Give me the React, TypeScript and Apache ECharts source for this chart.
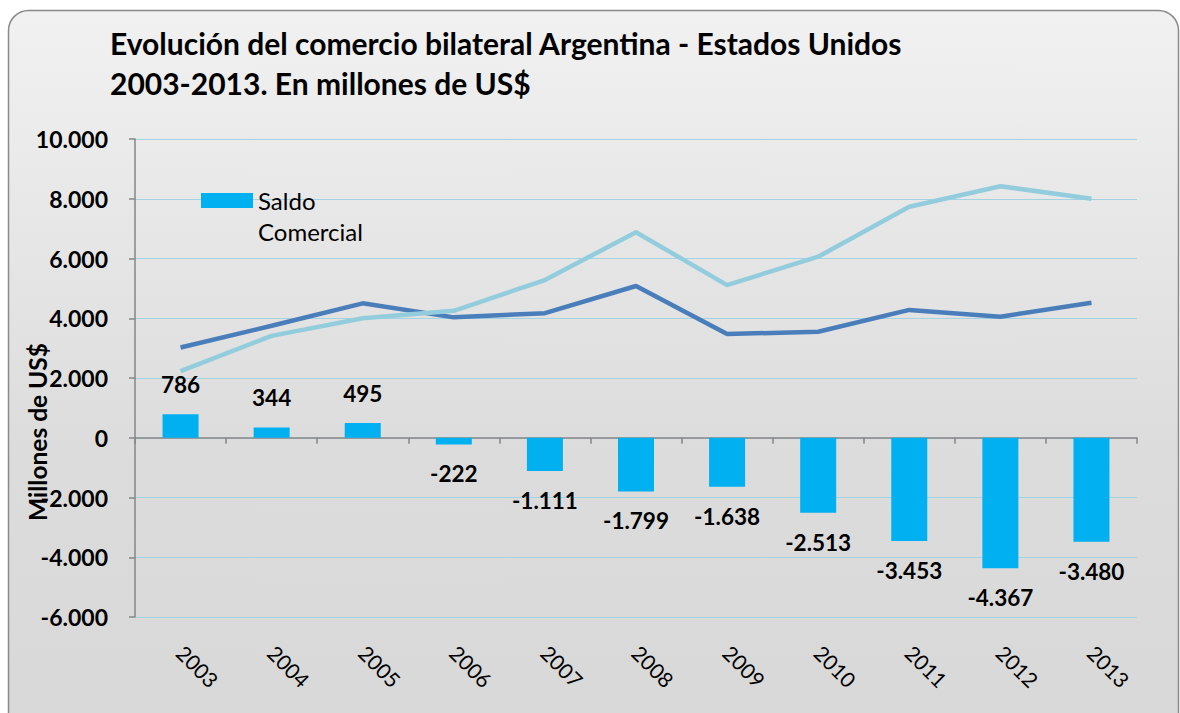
import React, { useEffect, useRef } from "react";
import * as echarts from "echarts";

const years = ["2003", "2004", "2005", "2006", "2007", "2008", "2009", "2010", "2011", "2012", "2013"];
const saldo = [786, 344, 495, -222, -1111, -1799, -1638, -2513, -3453, -4367, -3480];
const exportaciones = [3020, 3750, 4500, 4030, 4170, 5080, 3470, 3550, 4280, 4050, 4520];
const importaciones = [2230, 3410, 4000, 4250, 5280, 6880, 5110, 6060, 7730, 8420, 8000];
const titleText = "Evolución del comercio bilateral Argentina - Estados Unidos\n2003-2013. En millones de US$";
const yAxisTitle = "Millones de US$";
const legendName = "Saldo Comercial";

const FONT = "Lato";

function fmt(v: number): string {
  const neg = v < 0;
  const s = String(Math.abs(Math.round(v)));
  const out = s.replace(/\B(?=(\d{3})+(?!\d))/g, ".");
  return (neg ? "-" : "") + out;
}

export default function App() {
  const ref = useRef<HTMLDivElement>(null);
  useEffect(() => {
    if (!ref.current) return;
    const chart = echarts.init(ref.current, null, { renderer: "svg" });
    chart.setOption({
      animation: false,
      textStyle: { fontFamily: FONT },
      graphic: [
        {
          type: "rect",
          z: -100,
          zlevel: 0,
          silent: true,
          shape: { x: 8.5, y: 10.5, width: 1170, height: 730, r: 20 },
          style: {
            fill: new echarts.graphic.LinearGradient(0, 0, 0, 1, [
              { offset: 0, color: "#f1f1f1" },
              { offset: 0.6, color: "#dcdcdc" },
              { offset: 1, color: "#d8d8d8" },
            ]),
            stroke: "#8a8a8a",
            lineWidth: 1.5,
          },
        },
        {
          type: "text",
          x: 37,
          y: 432,
          rotation: Math.PI / 2,
          style: {
            text: yAxisTitle,
            fontFamily: FONT,
            fontWeight: "bold",
            fontSize: 24.5,
            fill: "#000",
            align: "center",
            verticalAlign: "middle",
          },
        },
      ],
      title: {
        text: titleText,
        left: 110,
        top: 23,
        padding: 0,
        textStyle: {
          fontFamily: FONT,
          fontWeight: "bold",
          fontSize: 30,
          lineHeight: 40,
          color: "#000",
        },
      },
      legend: {
        data: [legendName],
        left: 201,
        top: 154,
        padding: 0,
        itemWidth: 52,
        itemHeight: 15,
        icon: "rect",
        formatter: () => "\nSaldo\nComercial",
        textStyle: {
          fontFamily: FONT,
          fontSize: 24,
          lineHeight: 31,
          color: "#000",
        },
      },
      grid: { left: 135, right: 43, top: 139, bottom: 96, containLabel: false },
      xAxis: [
        {
          type: "category",
          data: years,
          position: "bottom",
          axisLine: { onZero: true, lineStyle: { color: "#868686", width: 1.5 } },
          axisTick: { show: true, length: 6, lineStyle: { color: "#868686", width: 1.5 } },
          axisLabel: { show: false },
          splitLine: { show: false },
        },
        {
          type: "category",
          data: years,
          position: "bottom",
          axisLine: { show: false, onZero: false },
          axisTick: { show: false },
          axisLabel: {
            show: true,
            rotate: -45,
            margin: 32,
            fontFamily: FONT,
            fontSize: 21,
            color: "#000",
          },
          splitLine: { show: false },
        },
      ],
      yAxis: {
        type: "value",
        min: -6000,
        max: 10000,
        interval: 2000,
        axisLine: { show: true, lineStyle: { color: "#868686", width: 1.5 } },
        axisTick: { show: true, length: 6, lineStyle: { color: "#868686", width: 1.5 } },
        axisLabel: {
          margin: 27,
          fontFamily: FONT,
          fontSize: 23,
          fontWeight: "bold",
          color: "#000",
          formatter: (v: number) => fmt(v),
        },
        splitLine: { show: true, lineStyle: { color: "#a3d3e0", width: 1.2 } },
      },
      series: [
        {
          name: legendName,
          type: "bar",
          xAxisIndex: 0,
          data: saldo.map((v) => ({
            value: v,
            label: { position: v >= 0 ? "top" : "bottom" },
          })),
          barWidth: 36,
          itemStyle: { color: "#00b0f0" },
          label: {
            show: true,
            distance: 18,
            fontFamily: FONT,
            fontSize: 22.5,
            fontWeight: "bold",
            color: "#000",
            formatter: (p: any) => fmt(p.value),
          },
          z: 2,
        },
        {
          name: "Exportaciones",
          type: "line",
          xAxisIndex: 0,
          data: exportaciones,
          showSymbol: false,
          symbol: "none",
          lineStyle: { color: "#4a7ebb", width: 4.5 },
          itemStyle: { color: "#4a7ebb" },
          z: 3,
        },
        {
          name: "Importaciones",
          type: "line",
          xAxisIndex: 0,
          data: importaciones,
          showSymbol: false,
          symbol: "none",
          lineStyle: { color: "#93cddd", width: 4.5 },
          itemStyle: { color: "#93cddd" },
          z: 3,
        },
      ],
    });
    return () => chart.dispose();
  }, []);
  return (
    <div
      ref={ref}
      style={{ position: "fixed", left: 0, top: 0, width: 1180, height: 713, background: "#fff" }}
    />
  );
}
